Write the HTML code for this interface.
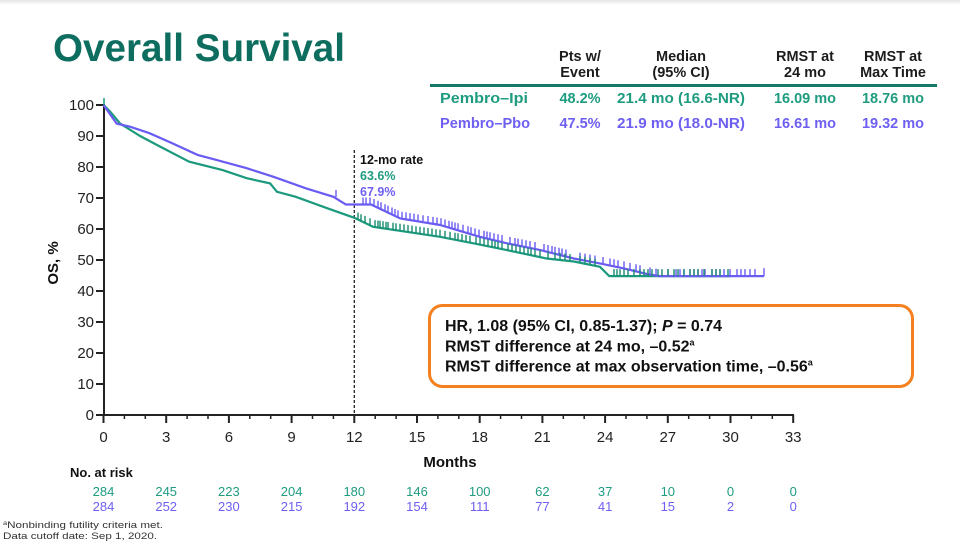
<!DOCTYPE html>
<html>
<head>
<meta charset="utf-8">
<style>
  html,body{margin:0;padding:0;background:#fff;}
  svg{display:block;}
  text{font-family:"Liberation Sans",Arial,sans-serif;}
</style>
</head>
<body>
<svg width="960" height="546" viewBox="0 0 960 546" xmlns="http://www.w3.org/2000/svg">
  <defs>
    <linearGradient id="topg" x1="0" y1="0" x2="0" y2="1">
      <stop offset="0" stop-color="#e4e4e4"/>
      <stop offset="1" stop-color="#ffffff"/>
    </linearGradient>
  </defs>
  <rect x="0" y="0" width="960" height="546" fill="#fff"/>
  <rect x="0" y="0" width="960" height="5" fill="url(#topg)"/>

  <!-- Title -->
  <text x="53" y="61" font-size="39" font-weight="bold" fill="#0d6d5e" textLength="292" lengthAdjust="spacingAndGlyphs">Overall Survival</text>

  <!-- Table -->
  <g font-size="14.5" font-weight="bold" fill="#1c1c1c" text-anchor="middle">
    <text x="580" y="61">Pts w/</text>
    <text x="580" y="77">Event</text>
    <text x="681" y="61">Median</text>
    <text x="681" y="77">(95% CI)</text>
    <text x="805" y="61">RMST at</text>
    <text x="805" y="77">24 mo</text>
    <text x="893" y="61">RMST at</text>
    <text x="893" y="77">Max Time</text>
  </g>
  <rect x="430" y="84" width="507" height="3" fill="#137a66"/>
  <g font-size="14.5" font-weight="bold" fill="#1f9c80">
    <text x="440" y="103" textLength="88" lengthAdjust="spacingAndGlyphs">Pembro–Ipi</text>
    <text x="580" y="103" text-anchor="middle">48.2%</text>
    <text x="681" y="103" text-anchor="middle" textLength="128" lengthAdjust="spacingAndGlyphs">21.4 mo (16.6-NR)</text>
    <text x="805" y="103" text-anchor="middle">16.09 mo</text>
    <text x="893" y="103" text-anchor="middle">18.76 mo</text>
  </g>
  <g font-size="14.5" font-weight="bold" fill="#6d5ff2">
    <text x="440" y="128" textLength="90" lengthAdjust="spacingAndGlyphs">Pembro–Pbo</text>
    <text x="580" y="128" text-anchor="middle">47.5%</text>
    <text x="681" y="128" text-anchor="middle" textLength="128" lengthAdjust="spacingAndGlyphs">21.9 mo (18.0-NR)</text>
    <text x="805" y="128" text-anchor="middle">16.61 mo</text>
    <text x="893" y="128" text-anchor="middle">19.32 mo</text>
  </g>

  <!-- Y axis -->
  <line x1="104" y1="104" x2="104" y2="416" stroke="#222" stroke-width="2"/>
  <g stroke="#222" stroke-width="2">
    <line x1="96" y1="105" x2="104" y2="105"/>
    <line x1="96" y1="136" x2="104" y2="136"/>
    <line x1="96" y1="167" x2="104" y2="167"/>
    <line x1="96" y1="198" x2="104" y2="198"/>
    <line x1="96" y1="229" x2="104" y2="229"/>
    <line x1="96" y1="260" x2="104" y2="260"/>
    <line x1="96" y1="291" x2="104" y2="291"/>
    <line x1="96" y1="322" x2="104" y2="322"/>
    <line x1="96" y1="353" x2="104" y2="353"/>
    <line x1="96" y1="384" x2="104" y2="384"/>
    <line x1="96" y1="415" x2="104" y2="415"/>
  </g>
  <g font-size="15" fill="#222" text-anchor="end">
    <text x="94" y="110">100</text>
    <text x="94" y="141">90</text>
    <text x="94" y="172">80</text>
    <text x="94" y="203">70</text>
    <text x="94" y="234">60</text>
    <text x="94" y="265">50</text>
    <text x="94" y="296">40</text>
    <text x="94" y="327">30</text>
    <text x="94" y="358">20</text>
    <text x="94" y="389">10</text>
    <text x="94" y="420">0</text>
  </g>
  <text transform="translate(58,263) rotate(-90)" font-size="15" font-weight="bold" fill="#111" text-anchor="middle">OS, %</text>

  <!-- X axis -->
  <line x1="103" y1="415" x2="794" y2="415" stroke="#222" stroke-width="2"/>
  <g stroke="#222" stroke-width="2">
    <line x1="103.5" y1="415" x2="103.5" y2="423"/>
    <line x1="166.2" y1="415" x2="166.2" y2="423"/>
    <line x1="228.9" y1="415" x2="228.9" y2="423"/>
    <line x1="291.6" y1="415" x2="291.6" y2="423"/>
    <line x1="354.3" y1="415" x2="354.3" y2="423"/>
    <line x1="417" y1="415" x2="417" y2="423"/>
    <line x1="479.7" y1="415" x2="479.7" y2="423"/>
    <line x1="542.4" y1="415" x2="542.4" y2="423"/>
    <line x1="605.1" y1="415" x2="605.1" y2="423"/>
    <line x1="667.8" y1="415" x2="667.8" y2="423"/>
    <line x1="730.5" y1="415" x2="730.5" y2="423"/>
    <line x1="793.2" y1="415" x2="793.2" y2="423"/>
  </g>
  <g stroke="#222" stroke-width="1.5">
    <line x1="124.4" y1="415" x2="124.4" y2="419"/>
    <line x1="145.3" y1="415" x2="145.3" y2="419"/>
    <line x1="187.1" y1="415" x2="187.1" y2="419"/>
    <line x1="208" y1="415" x2="208" y2="419"/>
    <line x1="249.8" y1="415" x2="249.8" y2="419"/>
    <line x1="270.7" y1="415" x2="270.7" y2="419"/>
    <line x1="312.5" y1="415" x2="312.5" y2="419"/>
    <line x1="333.4" y1="415" x2="333.4" y2="419"/>
    <line x1="375.2" y1="415" x2="375.2" y2="419"/>
    <line x1="396.1" y1="415" x2="396.1" y2="419"/>
    <line x1="437.9" y1="415" x2="437.9" y2="419"/>
    <line x1="458.8" y1="415" x2="458.8" y2="419"/>
    <line x1="500.6" y1="415" x2="500.6" y2="419"/>
    <line x1="521.5" y1="415" x2="521.5" y2="419"/>
    <line x1="563.3" y1="415" x2="563.3" y2="419"/>
    <line x1="584.2" y1="415" x2="584.2" y2="419"/>
    <line x1="626" y1="415" x2="626" y2="419"/>
    <line x1="646.9" y1="415" x2="646.9" y2="419"/>
    <line x1="688.7" y1="415" x2="688.7" y2="419"/>
    <line x1="709.6" y1="415" x2="709.6" y2="419"/>
    <line x1="751.4" y1="415" x2="751.4" y2="419"/>
    <line x1="772.3" y1="415" x2="772.3" y2="419"/>
  </g>
  <g font-size="15" fill="#222" text-anchor="middle">
    <text x="103.5" y="442">0</text>
    <text x="166.2" y="442">3</text>
    <text x="228.9" y="442">6</text>
    <text x="291.6" y="442">9</text>
    <text x="354.3" y="442">12</text>
    <text x="417" y="442">15</text>
    <text x="479.7" y="442">18</text>
    <text x="542.4" y="442">21</text>
    <text x="605.1" y="442">24</text>
    <text x="667.8" y="442">27</text>
    <text x="730.5" y="442">30</text>
    <text x="793.2" y="442">33</text>
  </g>
  <text x="450" y="467" font-size="15" font-weight="bold" fill="#111" text-anchor="middle">Months</text>

  <!-- 12-mo dashed line -->
  <line x1="354.3" y1="150" x2="354.3" y2="415" stroke="#222" stroke-width="1.3" stroke-dasharray="3,2"/>
  <text x="360" y="164" font-size="12.5" font-weight="bold" fill="#111">12-mo rate</text>
  <text x="360" y="180" font-size="12.5" font-weight="bold" fill="#1f9c80">63.6%</text>
  <text x="360" y="196" font-size="12.5" font-weight="bold" fill="#6d5ff2">67.9%</text>

  <!-- Curves -->
  <polyline fill="none" stroke="#1b9a7d" stroke-width="2.2" stroke-linejoin="miter"
    points="103.5,105 109.8,111.2 120.2,123.6 140.1,136 159.9,146.5 189.2,161.7 222.6,170.1 246.7,178.2 270.1,183.4 277,191.8 295.8,196.8 327.1,208.2 354.3,217.8 373.1,226.8 406.6,231.8 440,236.8 473.4,243.3 506.9,250.1 546.6,258.5 573.8,261.5 599.9,266.8 609.3,276.1 730.5,276.1"/>
  <line x1="104" y1="98" x2="104" y2="105" stroke="#1b9a7d" stroke-width="1.5"/>
  <polyline fill="none" stroke="#6a5cf2" stroke-width="2.2" stroke-linejoin="miter"
    points="103.5,105 116.7,123.6 130,126.7 149.5,133.2 172.5,143.4 197.6,154.9 216.4,159.9 246.7,168.2 272.8,176.6 306.2,188.4 333.4,196.8 345.9,204.5 371,204.5 400.3,218.5 440,225 479.7,236.8 506.9,243.3 540.3,250.1 573.8,258.5 599.9,263.4 623.9,268.4 646.9,274 659.4,276.1 764,276.1"/>

  <!-- Censor marks purple -->
  <path fill="none" stroke="#6a5cf2" stroke-width="1.4" d="
    M336 197v-7 M363 204.5v-7 M370 204.5v-7 M378 207.8v-7 M385 211.2v-7 M392 214.5v-7 M398 217.4v-7
    M410 220.1v-7 M418 221.4v-7 M428 223v-7 M433 223.9v-7 M437 224.5v-7 M445 226.5v-7 M452 228.6v-7
    M458 230.3v-7 M463 231.8v-7 M468 233.3v-7 M475 235.4v-7 M484 237.8v-7 M490 239.3v-7 M498 241.2v-7
    M515 245v-7 M522 246.4v-7 M530 248v-7 M548 252v-7 M555 253.8v-7 M562 255.5v-7 M580 259.7v-7
    M590 261.5v-7 M610 265.5v-7 M618 267.2v-7 M630 269.9v-7 M640 272.3v-7 M668 276.1v-7 M676 276.1v-7
    M684 276.1v-7 M690 276.1v-7 M698 276.1v-7 M705 276.1v-7 M712 276.1v-7 M720 276.1v-7 M730 276.1v-7
    M737 276.1v-7 M745 276.1v-7 M764 276.1v-8
    M366 204.5v-7 M374 206v-7 M381 209.3v-7 M388 212.6v-7 M395 216v-7 M402 218.8v-7 M406 219.4v-7
    M414 220.8v-7 M423 222.2v-7 M441 225.3v-7 M449 227.7v-7 M455 229.5v-7 M471 234.2v-7 M479 236.6v-7
    M487 238.5v-7 M494 240.2v-7 M502 242.1v-7 M510 244v-7 M518 245.6v-7 M526 247.3v-7 M535 249v-7
    M544 251v-7 M552 253v-7 M559 254.8v-7 M566 256.5v-7 M585 260.6v-7 M595 262.5v-7 M603 264v-7
    M614 266.3v-7 M624 268.4v-7 M636 271.3v-7 M650 274.5v-7 M656 275.6v-7 M680 276.1v-7 M694 276.1v-7
    M702 276.1v-7 M716 276.1v-7 M724 276.1v-7 M741 276.1v-7 M750 276.1v-7 M755 276.1v-7"/>
  <!-- Censor marks green -->
  <path fill="none" stroke="#178a72" stroke-width="1.4" d="
    M358 219.6v-7 M365 222.9v-7 M378 227.5v-7 M383 228.3v-7 M388 229v-7 M393 229.8v-7 M400 230.8v-7
    M412 232.6v-7 M420 233.8v-7 M428 235v-7 M432 235.5v-7 M445 237.8v-7 M455 239.7v-7 M462 241.1v-7
    M470 242.6v-7 M480 244.6v-7 M488 246.3v-7 M495 247.7v-7 M502 249.1v-7 M512 251.2v-7 M520 252.9v-7
    M528 254.6v-7 M535 256.1v-7 M555 259.4v-7 M565 260.5v-7 M580 262.8v-7 M590 264.8v-7 M614 276.1v-7
    M620 276.1v-7 M628 276.1v-7 M640 276.1v-7 M648 276.1v-7 M658 276.1v-7 M668 276.1v-7 M678 276.1v-7
    M690 276.1v-7 M698 276.1v-7 M712 276.1v-7 M728 276.1v-7
    M361 221.3v-7 M370 225.3v-7 M375 227.1v-7 M380 227.8v-7 M386 228.7v-7 M396 230.2v-7 M404 231.4v-7
    M408 232v-7 M416 233.2v-7 M424 234.4v-7 M436 236.2v-7 M440 236.8v-7 M450 238.7v-7 M458 240.3v-7
    M466 241.9v-7 M476 244v-7 M484 245.4v-7 M492 247.1v-7 M498 248.3v-7 M508 250.3v-7 M516 252v-7
    M524 253.7v-7 M531 255.2v-7 M540 257.1v-7 M548 258.6v-7 M560 259.9v-7 M570 261.1v-7 M585 263.8v-7
    M595 265.8v-7 M617 276.1v-7 M624 276.1v-7 M634 276.1v-7 M644 276.1v-7 M652 276.1v-7 M662 276.1v-7
    M674 276.1v-7 M684 276.1v-7 M694 276.1v-7 M704 276.1v-7 M716 276.1v-7 M720 276.1v-7"/>

  <!-- HR box -->
  <rect x="429.5" y="305.5" width="483" height="81" rx="13" ry="13" fill="#fff" stroke="#f4801f" stroke-width="3"/>
  <g font-size="16" font-weight="bold" fill="#111">
    <text x="445" y="331">HR, 1.08 (95% CI, 0.85-1.37); <tspan font-style="italic">P</tspan> = 0.74</text>
    <text x="445" y="351.5">RMST difference at 24 mo, –0.52<tspan font-size="9" dy="-6">a</tspan></text>
    <text x="445" y="371.5">RMST difference at max observation time, –0.56<tspan font-size="9" dy="-6">a</tspan></text>
  </g>

  <!-- No. at risk -->
  <text x="70" y="477" font-size="13" font-weight="bold" fill="#111">No. at risk</text>
  <g font-size="13" fill="#1f9c80" text-anchor="middle">
    <text x="103.5" y="496">284</text>
    <text x="166.2" y="496">245</text>
    <text x="228.9" y="496">223</text>
    <text x="291.6" y="496">204</text>
    <text x="354.3" y="496">180</text>
    <text x="417" y="496">146</text>
    <text x="479.7" y="496">100</text>
    <text x="542.4" y="496">62</text>
    <text x="605.1" y="496">37</text>
    <text x="667.8" y="496">10</text>
    <text x="730.5" y="496">0</text>
    <text x="793.2" y="496">0</text>
  </g>
  <g font-size="13" fill="#6d5ff2" text-anchor="middle">
    <text x="103.5" y="511">284</text>
    <text x="166.2" y="511">252</text>
    <text x="228.9" y="511">230</text>
    <text x="291.6" y="511">215</text>
    <text x="354.3" y="511">192</text>
    <text x="417" y="511">154</text>
    <text x="479.7" y="511">111</text>
    <text x="542.4" y="511">77</text>
    <text x="605.1" y="511">41</text>
    <text x="667.8" y="511">15</text>
    <text x="730.5" y="511">2</text>
    <text x="793.2" y="511">0</text>
  </g>

  <!-- Footnotes -->
  <text x="3" y="528" font-size="9.5" fill="#333" textLength="160" lengthAdjust="spacingAndGlyphs"><tspan font-size="6" dy="-3">a</tspan><tspan dy="3">Nonbinding futility criteria met.</tspan></text>
  <text x="3" y="539" font-size="9.5" fill="#333" textLength="154" lengthAdjust="spacingAndGlyphs">Data cutoff date: Sep 1, 2020.</text>
</svg>
</body>
</html>
